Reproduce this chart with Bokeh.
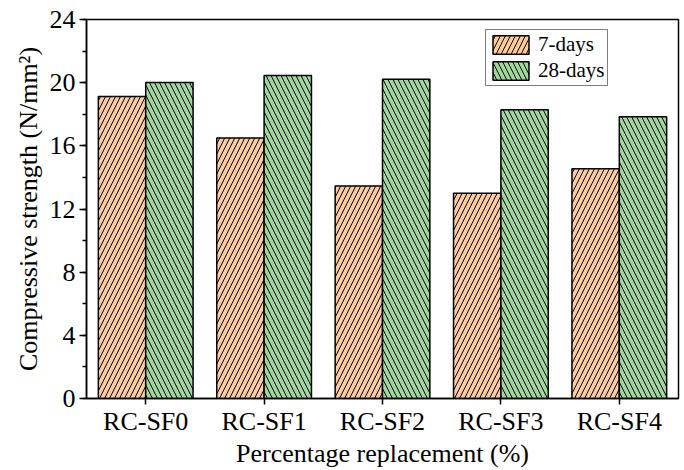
from bokeh.plotting import figure
from bokeh.models import (ColumnDataSource, FactorRange, Range1d, SingleIntervalTicker,
                          CustomJSTicker)
from bokeh.transform import dodge
from bokeh.embed import file_html
from bokeh.resources import INLINE

categories = ["RC-SF0", "RC-SF1", "RC-SF2", "RC-SF3", "RC-SF4"]
days7 = [19.12, 16.5, 13.45, 13.0, 14.55]
days28 = [20.01, 20.45, 20.22, 18.28, 17.84]

source = ColumnDataSource(dict(cat=categories, d7=days7, d28=days28))

FONT = "Liberation Serif"

p = figure(width=684, height=470, x_range=FactorRange(factors=categories),
           y_range=Range1d(0, 24), output_backend="svg", toolbar_location=None,
           min_border_left=86, min_border_top=19, min_border_right=6, min_border_bottom=72)

p.vbar(x=dodge("cat", -0.2, range=p.x_range), top="d7", width=0.4, source=source,
       fill_color="#FFCC99", line_color="black", line_width=1.5,
       hatch_pattern="/", hatch_color="black", hatch_scale=10, hatch_weight=1,
       legend_label="7-days")
p.vbar(x=dodge("cat", 0.2, range=p.x_range), top="d28", width=0.4, source=source,
       fill_color="#9ED89A", line_color="black", line_width=1.5,
       hatch_pattern="\\", hatch_color="black", hatch_scale=10, hatch_weight=1,
       legend_label="28-days")

# categories as major ticks, category boundaries as minor ticks
p.xaxis.ticker = CustomJSTicker(
    major_code="return cb_data.range.factors",
    minor_code="const n = cb_data.range.factors.length; const out = []; "
               "for (let i = 0; i <= n; i++) { out.push(i) } return out")

p.xgrid.visible = False
p.ygrid.visible = False
p.outline_line_color = "black"
p.outline_line_width = 1.5
p.outline_line_alpha = 1

p.yaxis.ticker = SingleIntervalTicker(interval=4, num_minor_ticks=2)
for ax in (p.xaxis[0], p.yaxis[0]):
    ax.axis_line_color = "black"
    ax.axis_line_width = 1.5
    ax.major_tick_line_color = "black"
    ax.major_tick_line_width = 1.5
    ax.minor_tick_line_color = "black"
    ax.minor_tick_line_width = 1.5
    ax.major_tick_in = 0
    ax.minor_tick_in = 0
    ax.major_label_text_font = FONT
    ax.major_label_text_font_size = "26px"
    ax.major_label_text_color = "black"
    ax.axis_label_text_font = FONT
    ax.axis_label_text_font_size = "26px"
    ax.axis_label_text_font_style = "normal"
    ax.axis_label_text_color = "black"

p.yaxis.major_tick_out = 7
p.yaxis.minor_tick_out = 4
p.xaxis.major_tick_out = 6
p.xaxis.minor_tick_out = 3
p.xaxis.major_label_standoff = 2
p.yaxis.major_label_standoff = 4
p.yaxis.axis_label = "Compressive strength (N/mm²)"
p.xaxis.axis_label = "Percentage replacement (%)"
p.xaxis.axis_label_standoff = 0
p.yaxis.axis_label_standoff = 4

lg = p.legend[0]
lg.location = (399, 312)
lg.label_text_font = FONT
lg.label_text_font_size = "21px"
lg.label_text_color = "black"
lg.glyph_width = 45
lg.glyph_height = 23
lg.label_height = 23
lg.padding = 2
lg.spacing = 1
lg.margin = 0
lg.label_standoff = 5
lg.border_line_color = "black"
lg.border_line_width = 1
lg.background_fill_alpha = 1

open("out.html", "w").write(file_html(p, INLINE))
